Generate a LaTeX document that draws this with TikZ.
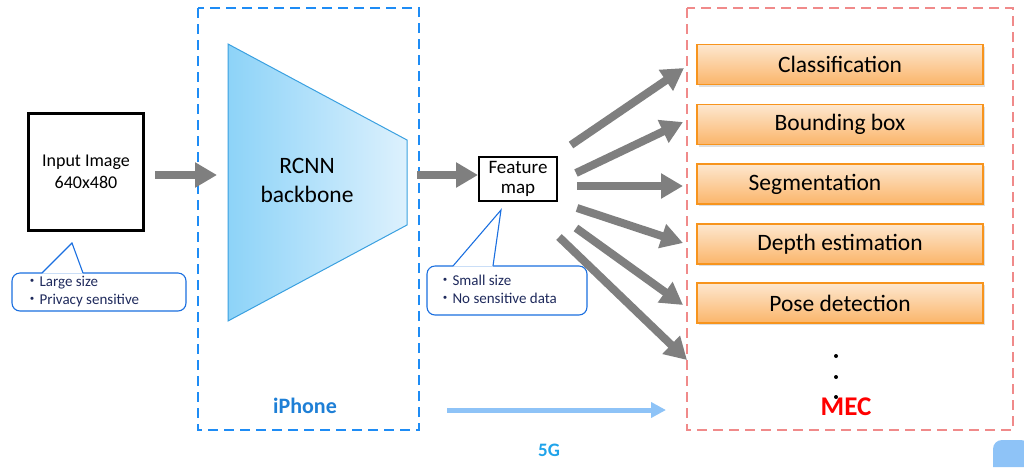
\documentclass[tikz,border=0pt]{standalone}
\usepackage{fontspec}
\setmainfont{Carlito}
\newfontfamily\cjk{Noto Sans CJK JP}
\usetikzlibrary{arrows.meta,shadows}
\definecolor{garrow}{HTML}{7F7F7F}
\definecolor{iblue}{HTML}{1E8CF5}
\definecolor{ilabel}{HTML}{1E7FD6}
\definecolor{mecred}{HTML}{F08A8A}
\definecolor{obord}{HTML}{F7941D}
\definecolor{otop}{HTML}{FDE7CF}
\definecolor{obot}{HTML}{FBB56A}
\definecolor{callb}{HTML}{1A6FE0}
\definecolor{navy}{HTML}{1F2A5C}
\definecolor{trapL}{HTML}{8DD3F8}
\definecolor{trapR}{HTML}{DDF1FD}
\definecolor{trapB}{HTML}{3AA0E0}
\definecolor{fiveg}{HTML}{8EC3F7}
\definecolor{fivegtxt}{HTML}{1FA3EA}
\begin{document}
\begin{tikzpicture}[x=1pt,y=-1pt,
  fat/.style={draw=garrow, line width=8pt, -{Triangle[length=22pt,width=24pt]}},
  blackbox/.style={draw=black, line width=3pt, align=center, inner sep=0pt},
  callout/.style={draw=callb, line width=1.1pt, fill=white, rounded corners=8pt},
  calltext/.style={anchor=west, align=left, text=navy, font=\fontsize{15}{18}\selectfont},
  taskbox/.style={draw=obord, line width=1.5pt, top color=otop, bottom color=obot,
    minimum width=286pt, minimum height=40pt, inner sep=0pt,
    font=\fontsize{23.5}{26}\selectfont,
    drop shadow={opacity=0.25, shadow xshift=1.5pt, shadow yshift=-2pt}},
  zone/.style={line width=2.6pt, dash pattern=on 10pt off 6pt},
  dotn/.style={circle, fill=black, inner sep=0pt, minimum size=4pt}
]
\useasboundingbox (0,0) rectangle (1024,467);

% zones
\draw[zone, draw=iblue] (198,8) rectangle (419,430);
\draw[zone, draw=mecred] (687,8) rectangle (1013,430);
\node[font=\bfseries\fontsize{22}{26}\selectfont, text=ilabel] (iphone) at (305,406) {iPhone};
\node[font=\bfseries\fontsize{27}{30}\selectfont, text=red] (mec) at (846,407) {MEC};

% input image
\node[blackbox, minimum width=115pt, minimum height=117pt,
  font=\fontsize{18}{22}\selectfont] (input) at (86,172) {Input Image\\640x480};

% callout 1
\node[callout, minimum width=174pt, minimum height=38pt] (call1) at (99,292) {};
\coordinate (tip1) at (72,243);
\fill[white] (42,273.6) -- (tip1) -- (83,273.6) -- cycle;
\draw[callb, line width=1.1pt, line join=miter] (42,273) -- (tip1) -- (83,273);
\node[calltext] (call1t) at (21,292) {{\cjk ・}Large size\\{\cjk ・}Privacy sensitive};

% backbone trapezoid
\shade[left color=trapL, right color=trapR] (228,44) -- (407,140) -- (407,225) -- (228,321) -- cycle;
\draw[trapB, line width=1pt] (228,44) -- (407,140) -- (407,225) -- (228,321) -- cycle;
\node[align=center, font=\fontsize{23.5}{29}\selectfont] (backbone) at (307,180) {RCNN\\backbone};
\coordinate (bbL) at (217,175);
\coordinate (bbR) at (417,175);

% feature map
\node[blackbox, line width=2.6pt, minimum width=78pt, minimum height=44pt,
  font=\fontsize{19}{20}\selectfont] (fmap) at (518,179) {Feature\\map};

% callout 2
\node[callout, minimum width=160pt, minimum height=49pt] (call2) at (507,290.5) {};
\coordinate (tip2) at (501,210);
\fill[white] (453,266.6) -- (tip2) -- (493,266.6) -- cycle;
\draw[callb, line width=1.1pt, line join=miter] (453,266) -- (tip2) -- (493,266);
\node[calltext] (call2t) at (434,289) {{\cjk ・}Small size\\{\cjk ・}No sensitive data};

% arrows into / out of backbone
\coordinate (inR) at (155,175);
\draw[fat] (inR) -- (bbL);
\coordinate (fmL) at (478,175);
\draw[fat] (bbR) -- (fmL);

% task boxes
\node[taskbox] (cls) at (840,64.5) {Classification};
\node[taskbox] (bbox) at (840,124.5) {Bounding box};
\node[taskbox] (seg) at (840,184) {Segmentation\hspace*{50pt}};
\node[taskbox] (depth) at (840,244) {Depth estimation};
\node[taskbox] (pose) at (840,303) {Pose detection};

\node[dotn] (d1) at (836,356) {};
\node[dotn] (d2) at (836,377) {};
\node[dotn] (d3) at (836,397) {};

% fan arrows
\coordinate (t1) at (571,145);  \coordinate (h1) at (684,68);
\coordinate (t2) at (576,173);  \coordinate (h2) at (683,122);
\coordinate (t3) at (577,186);  \coordinate (h3) at (683,186);
\coordinate (t4) at (577,208);  \coordinate (h4) at (683,243);
\coordinate (t5) at (576,228);  \coordinate (h5) at (683,305);
\coordinate (t6) at (559,237);  \coordinate (h6) at (687,360);
\foreach \i in {1,...,6} \draw[fat] (t\i) -- (h\i);

% 5G link
\coordinate (g1) at (447,410);
\coordinate (g2) at (666,410);
\draw[draw=fiveg, line width=5pt, -{Triangle[length=15pt,width=15pt]}] (g1) -- (g2);
\node[font=\bfseries\fontsize{19}{22}\selectfont, text=fivegtxt] (fiveg) at (549,450) {5G};

% corner shape
\fill[fiveg] (993,467) -- (993,448) [rounded corners=9pt] -- (993,440) -- (1030,440) [sharp corners] -- (1030,467) -- cycle;
\end{tikzpicture}
\end{document}
